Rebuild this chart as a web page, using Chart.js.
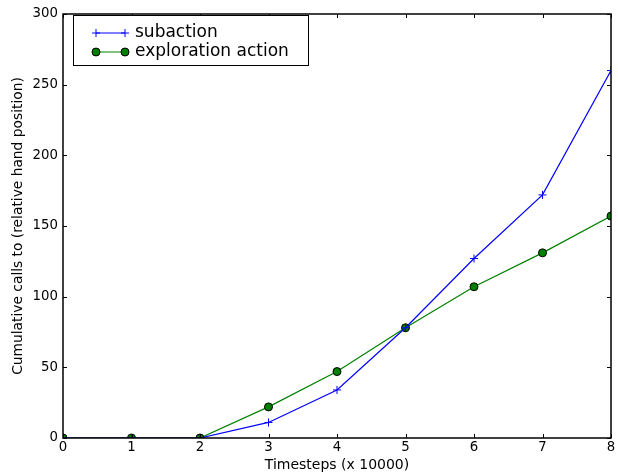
<!doctype html>
<html lang="en">
  <head>
    <meta charset="utf-8">
    <title>Cumulative calls</title>
    <style>
      * { margin: 0; padding: 0; }
      body { background: #fff; }
      .chartBox { width: 618px; height: 474px; position: relative; }
    </style>
  </head>
  <body>
    <div class="chartBox"><canvas id="myChart"></canvas></div>
    <script src="https://cdn.jsdelivr.net/npm/chart.js/dist/chart.umd.min.js"></script>
    <script>
    // data
    const timesteps = [0, 1, 2, 3, 4, 5, 6, 7, 8];
    const subaction = [0, 0, 0, 11, 34, 78, 127, 172, 260];
    const exploration = [0, 0, 0, 22, 47, 78, 107, 131, 157];
    const xTicks = [0, 1, 2, 3, 4, 5, 6, 7, 8];
    const yTicks = [0, 50, 100, 150, 200, 250, 300];

    const FONT = 'DejaVu Sans';

    // matplotlib-like frame with inward ticks + legend box
    const framePlugin = {
      id: 'frame',
      afterDraw(chart) {
        const { ctx, chartArea: a, scales } = chart;
        ctx.save();
        ctx.strokeStyle = '#000';
        ctx.lineWidth = 1;
        ctx.beginPath();
        xTicks.forEach(v => {
          const px = Math.round(scales.x.getPixelForValue(v)) + 0.5;
          ctx.moveTo(px, a.bottom); ctx.lineTo(px, a.bottom - 4);
          ctx.moveTo(px, a.top); ctx.lineTo(px, a.top + 4);
        });
        yTicks.forEach(v => {
          const py = Math.round(scales.y.getPixelForValue(v)) + 0.5;
          ctx.moveTo(a.left, py); ctx.lineTo(a.left + 4, py);
          ctx.moveTo(a.right, py); ctx.lineTo(a.right - 4, py);
        });
        ctx.stroke();
        ctx.lineWidth = 1.5;
        ctx.strokeRect(a.left, a.top, a.right - a.left, a.bottom - a.top);

        // legend
        const lx = 73, ly = 15, lw = 235, lh = 50;
        ctx.fillStyle = '#fff';
        ctx.fillRect(lx, ly, lw, lh);
        ctx.lineWidth = 1;
        ctx.strokeStyle = '#000';
        ctx.strokeRect(lx + 0.5, ly + 0.5, lw, lh);
        const items = [
          { label: 'subaction', color: '#0000ff', marker: 'cross' },
          { label: 'exploration action', color: '#008000', marker: 'circle' }
        ];
        items.forEach((it, i) => {
          const y = ly + 18 + i * 19;
          const x0 = lx + 23, x1 = lx + 52;
          ctx.strokeStyle = it.color;
          ctx.lineWidth = 1;
          ctx.beginPath();
          ctx.moveTo(x0, y); ctx.lineTo(x1, y);
          ctx.stroke();
          [x0, x1].forEach(x => {
            if (it.marker === 'cross') {
              ctx.beginPath();
              ctx.moveTo(x - 4, y); ctx.lineTo(x + 4, y);
              ctx.moveTo(x, y - 4); ctx.lineTo(x, y + 4);
              ctx.stroke();
            } else {
              ctx.beginPath();
              ctx.arc(x, y, 4, 0, Math.PI * 2);
              ctx.fillStyle = it.color;
              ctx.fill();
              ctx.strokeStyle = '#000';
              ctx.stroke();
            }
          });
          ctx.fillStyle = '#000';
          ctx.font = '17px "' + FONT + '"';
          ctx.textBaseline = 'middle';
          ctx.fillText(it.label, lx + 62, y);
        });
        ctx.restore();
      }
    };

    const data = {
      datasets: [
        {
          label: 'subaction',
          data: timesteps.map((t, i) => ({ x: t, y: subaction[i] })),
          borderColor: '#0000ff',
          backgroundColor: '#0000ff',
          borderWidth: 1.2,
          pointStyle: 'cross',
          pointRadius: 4,
          pointBorderWidth: 1,
          tension: 0
        },
        {
          label: 'exploration action',
          data: timesteps.map((t, i) => ({ x: t, y: exploration[i] })),
          borderColor: '#008000',
          backgroundColor: '#008000',
          pointBorderColor: '#000',
          borderWidth: 1.2,
          pointStyle: 'circle',
          pointRadius: 4,
          pointBorderWidth: 1,
          tension: 0
        }
      ]
    };

    const config = {
      type: 'line',
      data,
      plugins: [framePlugin],
      options: {
        responsive: true,
        maintainAspectRatio: false,
        animation: false,
        layout: { padding: { top: 14, right: 7, left: 0, bottom: 0 } },
        plugins: { legend: { display: false }, tooltip: { enabled: false } },
        scales: {
          x: {
            type: 'linear',
            min: 0, max: 8,
            afterBuildTicks: s => { s.ticks = xTicks.map(v => ({ value: v })); },
            afterFit: s => { s.height = 36; },
            grid: { display: false, drawTicks: false },
            border: { display: false },
            ticks: { color: '#000', font: { family: FONT, size: 13.3 }, padding: 2, maxRotation: 0 },
            title: { display: true, text: 'Timesteps (x 10000)', color: '#000', font: { family: FONT, size: 14 }, padding: { top: 0, bottom: 0 } }
          },
          y: {
            type: 'linear',
            min: 0, max: 300,
            afterBuildTicks: s => { s.ticks = yTicks.map(v => ({ value: v })); },
            afterFit: s => { s.width = 63; },
            grid: { display: false, drawTicks: false },
            border: { display: false },
            ticks: { color: '#000', font: { family: FONT, size: 13.3 }, padding: 5 },
            title: { display: true, text: 'Cumulative calls to (relative hand position)', color: '#000', font: { family: FONT, size: 13.8 }, padding: { top: 10, bottom: 0 } }
          }
        }
      }
    };

    const myChart = new Chart(document.getElementById('myChart'), config);
    </script>
  </body>
</html>
